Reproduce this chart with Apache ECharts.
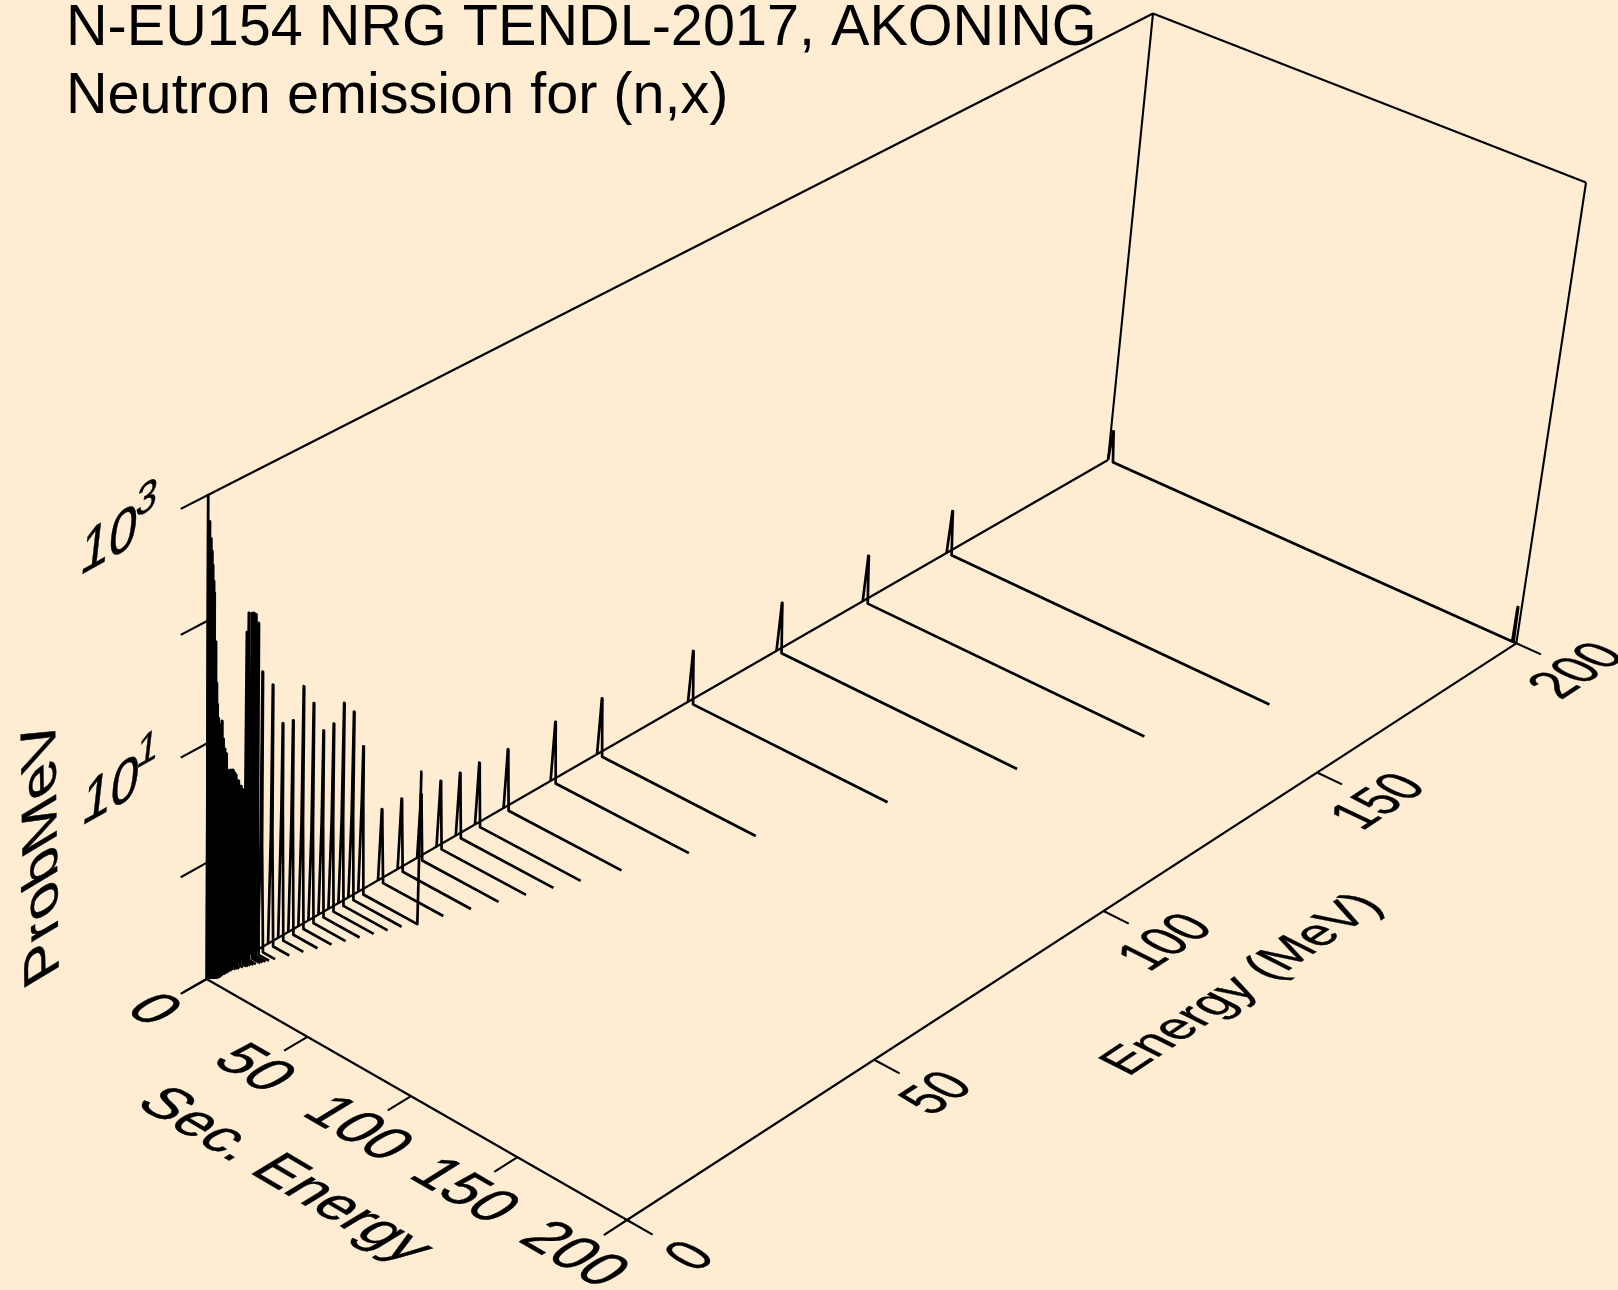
<!DOCTYPE html>
<html><head><meta charset="utf-8">
<style>html,body{margin:0;padding:0;background:#FFEDD3}#c{width:1618px;height:1290px}</style>
<script src="https://cdn.jsdelivr.net/npm/echarts@6/dist/echarts.min.js"></script>
</head><body><div id="c"></div>
<script>
// ---- data ----
const titleLines = ['N-EU154 NRG TENDL-2017, AKONING', 'Neutron emission for (n,x)'];
const incidentEnergy = [0.02,0.25,0.42,0.55,0.65,0.77,0.85,1.05,1.25,1.4,1.6,1.9,2.3,2.55,2.85,3.15,3.5,4,4.45,4.75,5,5.5,6,6.25,6.55,6.95,7.3,7.9,8.25,8.65,9.15,
  10,12,14,16,18,20,22,24,26,28,30,34,38,42,46,50,54,60,70,80,100,120,140,160,200];
const peakProb = [1000,615,449,356,274,204,163,66,30,20,15.2,13.2,13.8,9.7,7.9,7.1,5.05,4.93,4.82,4.49,4.27,3.7,3.24,3.01,2.9,57.5,81,78,77,73.6,60.8,
  23.2,16.3,7.0,6.65,11.5,7.46,3.95,4.04,5.41,4.1,1.87,0.431,0.425,0.373,0.389,0.367,0.361,0.341,0.344,0.324,0.295,0.28,0.267,0.249,0.19];
const shoulderProb = [1,1,1,1,1,1,1,1,1,1,1,1,1,1,1,1,1,1,1,1,1,1,1,1,1,1,1,1,1,1,1,
  0.836,0.927,1.3,0.995,0.836,0.624,0.635,0.624,0.557,0.546,0.647,0.299,0.296,0.269,0.277,0.265,0.262,0.251,0.252,0.242,0.225,0.216,0.209,0.198,0.162];
const spikeSecEnergy = [0,0.9,1.15,1.4,1.65,2.55];
const endPeakIncident = [30,200];
const endPeakSecEnergy = [29.6,198.2];
const endPeakProb = [2.07,0.206];
const floorProb = 0.1, topProb = 1000;
const secEndShortfall = 1.4;
const secTicks = [0,50,100,150,200];
const energyTicks = [0,50,100,150,200];
const probTicks = [1000,100,10,1,0.1];
const probLabels = [{base:'10',exp:'3',p:1000},{base:'10',exp:'1',p:10}];

// ---- oblique perspective box: corners in the page plane ----
const A=[206.6,979],B=[627,1220],C=[1516.3,643.3],D=[1108,460];
const At=[208,495],Dt=[1153,13.5],Ct=[1586,182.6];
const verticalPerspective=0.95;
const cross=(p,q)=>[p[1]*q[2]-p[2]*q[1],p[2]*q[0]-p[0]*q[2],p[0]*q[1]-p[1]*q[0]];
const h3=p=>[p[0],p[1],1];
const lineOf=(p,q)=>cross(h3(p),h3(q));
const V1=cross(lineOf(A,B),lineOf(D,C)), V2=cross(lineOf(A,D),lineOf(B,C));
const bt=cross(cross(h3(At),V1),cross(h3(Ct),V2));
const Bt=[bt[0]/bt[2],bt[1]/bt[2]];
function quad(p0,p1,p2,p3){
  const dx1=p1[0]-p2[0],dx2=p3[0]-p2[0],sx=p0[0]-p1[0]+p2[0]-p3[0];
  const dy1=p1[1]-p2[1],dy2=p3[1]-p2[1],sy=p0[1]-p1[1]+p2[1]-p3[1];
  const den=dx1*dy2-dx2*dy1,g=(sx*dy2-dx2*sy)/den,h=(dx1*sy-sx*dy1)/den;
  const a=p1[0]-p0[0]+g*p1[0],b=p3[0]-p0[0]+h*p3[0],d=p1[1]-p0[1]+g*p1[1],e=p3[1]-p0[1]+h*p3[1];
  return (u,v)=>{const w=g*u+h*v+1;return [(a*u+b*v+p0[0])/w,(d*u+e*v+p0[1])/w];};
}
const baseQ=quad(A,B,C,D), topQ=quad(At,Bt,Ct,Dt);
const zFrac=p=>{
  const f=(Math.log10(p)-Math.log10(floorProb))/(Math.log10(topProb)-Math.log10(floorProb));
  return verticalPerspective*f/(1+(verticalPerspective-1)*f);
};
function project(es,e,p){
  const u=es/200,v=e/200,t=zFrac(p),a=baseQ(u,v),b=topQ(u,v);
  return [a[0]+(b[0]-a[0])*t,a[1]+(b[1]-a[1])*t];
}
function unit(p,q){const dx=q[0]-p[0],dy=q[1]-p[1],l=Math.hypot(dx,dy);return [dx/l,dy/l];}

// ---- marks ----
const stroke='#000';
function line(api,pts,w){
  return {type:'polyline',shape:{points:pts.map(q=>api.coord(q))},silent:true,
    style:{stroke,fill:null,lineWidth:w,lineJoin:'round'}};
}
function renderSpectrum(params,api){
  const i=params.dataIndex,E=incidentEnergy[i],pk=peakProb[i],sh=shoulderProb[i];
  const f=Math.min(1,Math.max(E,0.05));
  const vals=[floorProb,sh,pk,pk,sh,floorProb];
  const pts=spikeSecEnergy.map((es,k)=>project(es*f,E,vals[k]));
  const end=endPeakIncident.indexOf(E);
  if(end>=0){
    const s=endPeakSecEnergy[end];
    pts.push(project(s-0.1,E,floorProb),project(s,E,endPeakProb[end]),project(s+0.25,E,endPeakProb[end]));
    if(E===200) pts.push(project(s+0.5,E,floorProb),project(E,E,floorProb));
  } else if(E-secEndShortfall>spikeSecEnergy[5]*f) pts.push(project(E-secEndShortfall,E,floorProb));
  return line(api,pts,2.7);
}
function renderFrame(params,api){
  const ch=[];
  const fl=floorProb,tp=topProb;
  const segs=[
    [[0,0,fl],[200,0,fl]],[[200,0,fl],[200,200,fl]],[[0,0,fl],[0,200,fl]],
    [[0,0,fl],[0,0,tp]],[[0,200,fl],[0,200,tp]],[[200,200,fl],[200,200,tp]],
    [[0,0,tp],[0,200,tp]],[[0,200,tp],[200,200,tp]]
  ];
  segs.forEach(s=>ch.push(line(api,s.map(q=>project(q[0],q[1],q[2])),2.1)));
  secTicks.forEach(v=>ch.push(line(api,[project(v,0,fl),project(v,-4.5,fl)],2.1)));
  energyTicks.forEach(v=>ch.push(line(api,[project(200,v,fl),project(211.5,v,fl)],2.1)));
  probTicks.forEach(v=>ch.push(line(api,[project(0,0,v),project(0,-5,v)],2.1)));
  return {type:'group',children:ch};
}
// text lying in a plane of the box: baseline vector a, glyph-up vector b, both in px per em
function planeText(api,text,at,a,b,emA,emB){
  const c=api.coord(at),F=100;
  const m00=a[0]*emA/F,m10=a[1]*emA/F,m01=-b[0]*emB/F,m11=-b[1]*emB/F;
  const E=(m00+m11)/2,Fd=(m00-m11)/2,G=(m10+m01)/2,H=(m10-m01)/2;
  const Q=Math.hypot(E,H),R=Math.hypot(Fd,G);
  const a1=Math.atan2(G,Fd),a2=Math.atan2(H,E);
  const theta=(a2-a1)/2,phi=(a2+a1)/2;
  return {type:'group',x:c[0],y:c[1],rotation:-phi,scaleX:Q+R,scaleY:Q-R,silent:true,children:[
    {type:'text',rotation:-theta,silent:true,style:{text,x:0,y:0,fill:stroke,stroke:stroke,lineWidth:0.8,font:F+'px "Liberation Sans"',align:'center',verticalAlign:'middle'}}
  ]};
}
function renderText(params,api){
  const fl=floorProb,ch=[];
  secTicks.forEach(v=>{
    const at=project(v,-10.5,fl);
    const a=unit(project(v,-10,fl),project(v+10,-10,fl)),b=unit(project(v,-10,fl),project(v,0,fl));
    ch.push(planeText(api,String(v),at,a,b,58,62));
  });
  energyTicks.forEach(v=>{
    const at=project(229,v,fl);
    const a=unit(project(220,v,fl),project(220,v+10,fl)),b=unit(project(220,v,fl),project(210,v,fl));
    ch.push(planeText(api,String(v),at,a,b,48,60));
  });
  const sa=unit(project(50,-20,fl),project(150,-20,fl)),sb=unit(project(90,-20,fl),project(90,0,fl));
  ch.push(planeText(api,'Sec. Energy',[284,1176],sa,sb,58,60));
  const ea=unit(project(240,80,fl),project(240,130,fl)),eb=unit(project(240,100,fl),project(210,100,fl));
  ch.push(planeText(api,'Energy (MeV)',[1243,985],ea,eb,50,54));
  const wa=unit(project(0,0,1),project(0,30,1)),wb=[0.11,-0.99];
  probLabels.forEach(l=>{
    ch.push(planeText(api,l.base,project(0,-18,l.p*1.05),wa,wb,58,64));
    ch.push(planeText(api,l.exp,project(0,-11.2,l.p*1.6),wa,wb,44,46));
  });
  ch.push(planeText(api,'ProbMeV',[43,851],[-0.015,-1],[-0.857,0.516],62,58));
  return {type:'group',children:ch};
}

const option={
  backgroundColor:'#FFEDD3',animation:false,
  title:{text:titleLines.join('\n'),left:61,top:-10,textStyle:{fontFamily:'"Liberation Sans"',fontSize:57.6,fontWeight:'normal',lineHeight:68,color:'#000'}},
  grid:{left:0,right:0,top:0,bottom:0},
  xAxis:{type:'value',min:0,max:1618,show:false},
  yAxis:{type:'value',min:0,max:1290,inverse:true,show:false},
  series:[
    {type:'custom',coordinateSystem:'cartesian2d',clip:false,silent:true,renderItem:renderFrame,data:[[0,0]]},
    {type:'custom',coordinateSystem:'cartesian2d',clip:false,silent:true,renderItem:renderSpectrum,
      data:incidentEnergy.map((e,i)=>[e,peakProb[i]])},
    {type:'custom',coordinateSystem:'cartesian2d',clip:false,silent:true,renderItem:renderText,data:[[0,0]]}
  ]
};
echarts.init(document.getElementById('c'),null,{renderer:'canvas'}).setOption(option);
</script></body></html>
